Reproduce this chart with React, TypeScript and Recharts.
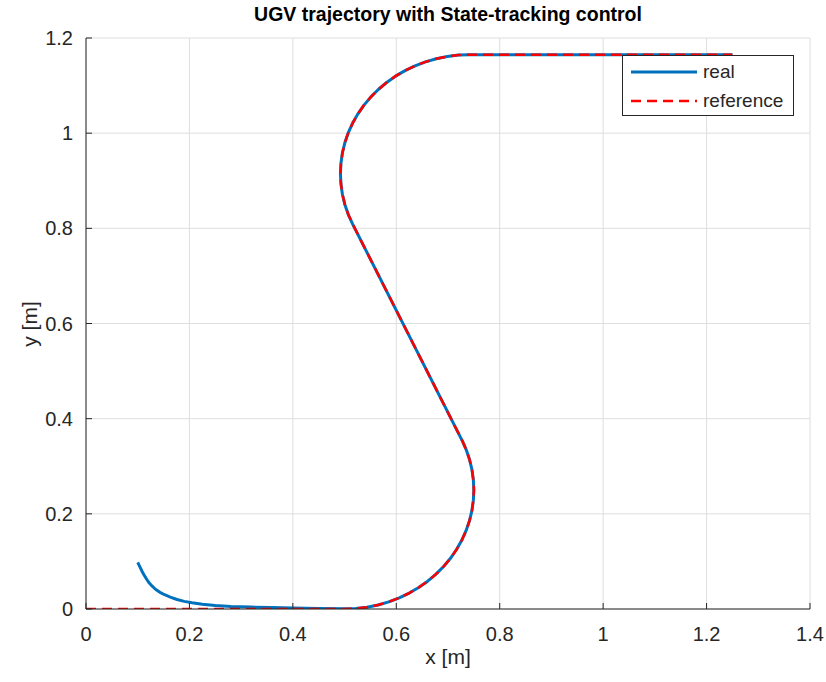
import React from "react";
import { LineChart, Line, XAxis, YAxis, CartesianGrid } from "recharts";

// reference path (red dashed)
const refX = [
  0, 0.5, 0.5218, 0.5434, 0.5647, 0.5855, 0.6057, 0.625, 0.6434, 0.6607, 0.6768, 0.6915,
  0.7048, 0.7165, 0.7266, 0.7349, 0.7415, 0.7462, 0.749, 0.75, 0.749, 0.7462, 0.7415,
  0.7349, 0.7284, 0.5154, 0.507, 0.5005, 0.4958, 0.493, 0.492, 0.493, 0.4958, 0.5005,
  0.507, 0.5154, 0.5255, 0.5372, 0.5505, 0.5652, 0.5813, 0.5986, 0.617, 0.6363, 0.6565,
  0.6773, 0.6986, 0.7202, 0.742, 1.25,
];
const refY = [
  0, 0, 0.001, 0.0038, 0.0085, 0.0151, 0.0234, 0.0335, 0.0452, 0.0585, 0.0732, 0.0893,
  0.1066, 0.125, 0.1444, 0.1645, 0.1853, 0.2066, 0.2282, 0.25, 0.2718, 0.2934, 0.3147,
  0.3355, 0.3517, 0.8094, 0.8295, 0.8503, 0.8716, 0.8932, 0.915, 0.9368, 0.9584, 0.9797,
  1.0005, 1.0207, 1.04, 1.0584, 1.0757, 1.0918, 1.1065, 1.1198, 1.1315, 1.1416, 1.1499,
  1.1565, 1.1612, 1.1641, 1.165, 1.165,
];

// real robot start (blue), merges with the reference after x ~ 0.52
const realStartX = [
  0.1, 0.104, 0.108, 0.112, 0.117, 0.122, 0.128, 0.135, 0.143, 0.152, 0.163, 0.176, 0.19,
  0.205, 0.225, 0.25, 0.28, 0.32, 0.36, 0.4, 0.45, 0.5,
];
const realStartY = [
  0.098, 0.089, 0.08, 0.072, 0.063, 0.055, 0.048, 0.041, 0.035, 0.03, 0.025, 0.02, 0.016,
  0.013, 0.01, 0.0075, 0.0055, 0.004, 0.003, 0.002, 0.0012, 0.0006,
];

const xTicks = [0, 0.2, 0.4, 0.6, 0.8, 1, 1.2, 1.4];
const yTicks = [0, 0.2, 0.4, 0.6, 0.8, 1, 1.2];

const refData = refX.map((x, i) => ({ x, y: refY[i] }));
const realData = [
  ...realStartX.map((x, i) => ({ x, y: realStartY[i] })),
  ...refData.slice(2),
];

const FONT = "'Liberation Sans', Arial, Helvetica, sans-serif";
const AXIS = "#262626";
const BLUE = "#0072BD";
const RED = "#FF0000";
const DASH = "10 6";

const fmt = (v: number) => String(Math.round(v * 10) / 10);

export default function App() {
  return (
    <div
      style={{
        position: "absolute",
        left: 0,
        top: 0,
        width: 826,
        height: 682,
        background: "#fff",
        fontFamily: FONT,
      }}
    >
      <LineChart
        width={826}
        height={682}
        margin={{ top: 38, right: 16, bottom: 43, left: 36 }}
      >
        <CartesianGrid stroke="#dedede" strokeWidth={1} />
        <XAxis
          dataKey="x"
          type="number"
          domain={[0, 1.4]}
          ticks={xTicks}
          tickFormatter={fmt}
          height={30}
          tickLine={{ stroke: AXIS }}
          tickSize={-6}
          tickMargin={24}
          axisLine={{ stroke: AXIS }}
          tick={{ fill: AXIS, fontSize: 20, fontFamily: FONT }}
          allowDataOverflow
        />
        <XAxis
          xAxisId="top"
          orientation="top"
          type="number"
          domain={[0, 1.4]}
          ticks={xTicks}
          height={0}
          tick={false}
          tickLine={{ stroke: AXIS }}
          tickSize={-6}
          axisLine={{ stroke: AXIS }}
        />
        <YAxis
          type="number"
          domain={[0, 1.2]}
          ticks={yTicks}
          tickFormatter={fmt}
          width={50}
          tickLine={{ stroke: AXIS }}
          tickSize={-6}
          tickMargin={19}
          axisLine={{ stroke: AXIS }}
          tick={{ fill: AXIS, fontSize: 20, fontFamily: FONT }}
          allowDataOverflow
        />
        <YAxis
          yAxisId="right"
          orientation="right"
          type="number"
          domain={[0, 1.2]}
          ticks={yTicks}
          width={0}
          tick={false}
          tickLine={{ stroke: AXIS }}
          tickSize={-6}
          axisLine={{ stroke: AXIS }}
        />
        <Line
          data={realData}
          dataKey="y"
          type="linear"
          stroke={BLUE}
          strokeWidth={3}
          strokeLinejoin="round"
          dot={false}
          isAnimationActive={false}
        />
        <Line
          data={refData}
          dataKey="y"
          type="linear"
          stroke={RED}
          strokeWidth={2.5}
          strokeDasharray={DASH}
          dot={false}
          isAnimationActive={false}
        />
      </LineChart>

      <div
        style={{
          position: "absolute",
          left: 86,
          width: 724,
          top: 3,
          textAlign: "center",
          fontWeight: "bold",
          fontSize: 19.5,
          color: "#000",
        }}
      >
        UGV trajectory with State-tracking control
      </div>

      <div
        style={{
          position: "absolute",
          left: 86,
          width: 724,
          top: 645,
          textAlign: "center",
          fontSize: 21,
          color: AXIS,
        }}
      >
        x [m]
      </div>

      <div
        style={{
          position: "absolute",
          left: 30,
          top: 324,
          transform: "translate(-50%, -50%) rotate(-90deg)",
          fontSize: 21,
          color: AXIS,
          whiteSpace: "nowrap",
        }}
      >
        y [m]
      </div>

      <div
        style={{
          position: "absolute",
          left: 622,
          top: 55,
          width: 170,
          height: 59,
          border: `1px solid ${AXIS}`,
          background: "#fff",
          fontSize: 19,
          color: AXIS,
        }}
      >
        {[
          { name: "real", color: BLUE, width: 3, dash: undefined },
          { name: "reference", color: RED, width: 2.5, dash: DASH },
        ].map((s, i) => (
          <div
            key={s.name}
            style={{
              position: "absolute",
              left: 6,
              top: 4 + i * 29,
              height: 24,
              display: "flex",
              alignItems: "center",
            }}
          >
            <svg width={70} height={24}>
              <line
                x1={2}
                x2={68}
                y1={12}
                y2={12}
                stroke={s.color}
                strokeWidth={s.width}
                strokeDasharray={s.dash}
              />
            </svg>
            <span style={{ marginLeft: 4 }}>{s.name}</span>
          </div>
        ))}
      </div>
    </div>
  );
}
